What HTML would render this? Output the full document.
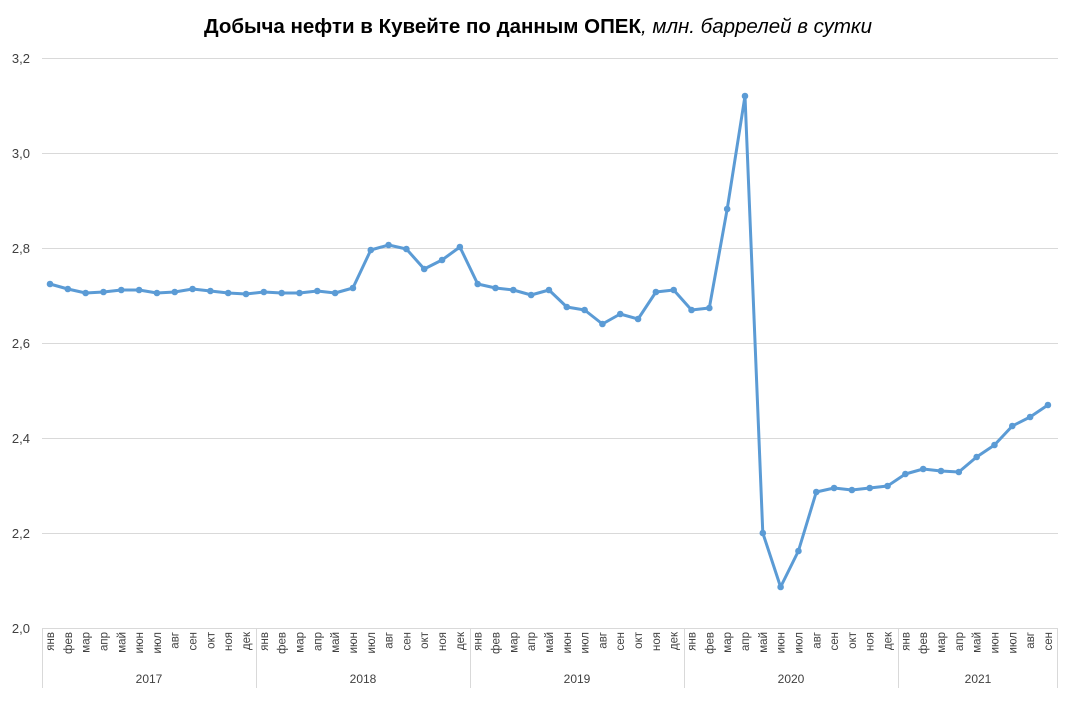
<!DOCTYPE html>
<html><head><meta charset="utf-8"><style>body{margin:0;background:#fff}</style></head><body>
<svg id="s" width="1073" height="697" xmlns="http://www.w3.org/2000/svg" font-family="Liberation Sans, sans-serif">
<text x="538" y="33" text-anchor="middle" font-size="20.5" fill="#000"><tspan font-weight="bold">Добыча нефти в Кувейте по данным ОПЕК</tspan><tspan font-style="italic">, млн. баррелей в сутки</tspan></text>
<g stroke="#d9d9d9" stroke-width="1">
<line x1="42" x2="1058" y1="58.5" y2="58.5"/><line x1="42" x2="1058" y1="153.5" y2="153.5"/>
<line x1="42" x2="1058" y1="248.5" y2="248.5"/><line x1="42" x2="1058" y1="343.5" y2="343.5"/>
<line x1="42" x2="1058" y1="438.5" y2="438.5"/><line x1="42" x2="1058" y1="533.5" y2="533.5"/>
<line x1="42" x2="1058" y1="628.5" y2="628.5"/>
<line x1="42.5" x2="42.5" y1="628" y2="688"/><line x1="256.5" x2="256.5" y1="628" y2="688"/>
<line x1="470.5" x2="470.5" y1="628" y2="688"/><line x1="684.5" x2="684.5" y1="628" y2="688"/>
<line x1="898.5" x2="898.5" y1="628" y2="688"/><line x1="1057.5" x2="1057.5" y1="628" y2="688"/>
</g>
<g font-size="13" fill="#404040" text-anchor="end">
<text x="30" y="63">3,2</text><text x="30" y="158">3,0</text><text x="30" y="253">2,8</text>
<text x="30" y="348">2,6</text><text x="30" y="443">2,4</text><text x="30" y="538">2,2</text><text x="30" y="633">2,0</text>
</g>
<g font-size="12" fill="#404040" text-anchor="middle">
<text x="149" y="683">2017</text><text x="363" y="683">2018</text><text x="577" y="683">2019</text>
<text x="791" y="683">2020</text><text x="978" y="683">2021</text>
</g>
<g id="m" font-size="11.5" fill="#404040" text-anchor="end"></g>
<polyline id="p" fill="none" stroke="#5b9bd5" stroke-width="3" stroke-linejoin="round"/>
<g id="d" fill="#5b9bd5"></g>
</svg>
<script>
var ys=[284,289,293,292,290,290,293,292,289,291,293,294,
292,293,293,291,293,288,250,245,249,269,260,247,
284,288,290,295,290,307,310,324,314,319,292,290,
310,308,209,96,533,587,551,492,488,490,488,486,
474,469,471,472,457,445,426,417,405];
var mn=["янв","фев","мар","апр","май","июн","июл","авг","сен","окт","ноя","дек"];
var ns="http://www.w3.org/2000/svg",pts=[],d=document.getElementById('d'),m=document.getElementById('m');
for(var i=0;i<ys.length;i++){var x=50+i*17.82;pts.push(x.toFixed(1)+","+ys[i]);
var c=document.createElementNS(ns,'circle');c.setAttribute('cx',x);c.setAttribute('cy',ys[i]);c.setAttribute('r',3.3);d.appendChild(c);
var t=document.createElementNS(ns,'text');t.setAttribute('transform','translate('+(x+4)+',632) rotate(-90)');t.textContent=mn[i%12];m.appendChild(t);}
document.getElementById('p').setAttribute('points',pts.join(' '));
</script>
</body></html>
